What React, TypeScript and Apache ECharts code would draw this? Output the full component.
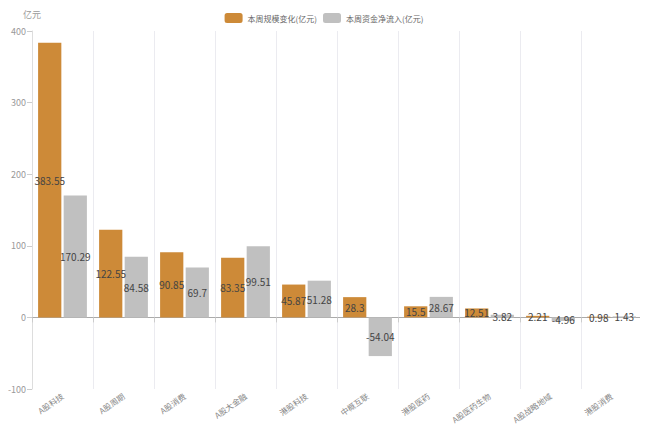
import React, { useEffect, useRef } from "react";
import * as echarts from "echarts";

const categories = [
  "A股科技",
  "A股周期",
  "A股消费",
  "A股大金融",
  "港股科技",
  "中概互联",
  "港股医药",
  "A股医药生物",
  "A股战略地域",
  "港股消费",
];
const scaleChange = [383.55, 122.55, 90.85, 83.35, 45.87, 28.3, 15.5, 12.51, 2.21, 0.98];
const netInflow = [170.29, 84.58, 69.7, 99.51, 51.28, -54.04, 28.67, 3.82, -4.96, 1.43];
const seriesNames = ["本周规模变化(亿元)", "本周资金净流入(亿元)"];
const yTicks = { min: -100, max: 400, interval: 100 };

const FONT = "'Noto Sans CJK SC', 'Noto Sans', sans-serif";

export default function App() {
  const ref = useRef<HTMLDivElement>(null);

  useEffect(() => {
    if (!ref.current) return;
    const chart = echarts.init(ref.current, undefined, { renderer: "svg" });
    const label = {
      show: true,
      position: "inside",
      color: "#444",
      fontSize: 10,
      fontFamily: FONT,
    };
    chart.setOption({
      animation: false,
      textStyle: { fontFamily: FONT },
      legend: {
        top: 8,
        left: "center",
        itemWidth: 18,
        itemHeight: 10,
        itemGap: 6,
        textStyle: { fontSize: 8, color: "#666", fontFamily: FONT },
        data: seriesNames,
      },
      grid: {
        left: 32,
        right: 6,
        top: 31,
        bottom: 43,
        containLabel: false,
        outerBoundsMode: "none",
      },
      xAxis: {
        type: "category",
        data: categories,
        axisLine: { onZero: true, lineStyle: { color: "#aaa" } },
        axisTick: { show: true, lineStyle: { color: "#ccc" } },
        splitLine: { show: true, lineStyle: { color: "#ebebf0" } },
        axisLabel: {
          rotate: 35,
          fontSize: 8,
          color: "#888",
          interval: 0,
          margin: 6,
          fontFamily: FONT,
        },
      },
      yAxis: {
        type: "value",
        name: "亿元",
        nameGap: 12,
        nameTextStyle: { fontSize: 9, color: "#999", align: "center", fontFamily: FONT },
        min: yTicks.min,
        max: yTicks.max,
        interval: yTicks.interval,
        axisLine: { show: true, lineStyle: { color: "#ddd" } },
        axisTick: { show: true, lineStyle: { color: "#ccc" } },
        splitLine: { show: false },
        axisLabel: { fontSize: 9, color: "#999", margin: 6, fontFamily: FONT },
      },
      series: [
        {
          name: seriesNames[0],
          type: "bar",
          data: scaleChange,
          barGap: "10%",
          barCategoryGap: "20%",
          itemStyle: { color: "#cd8a38" },
          label,
        },
        {
          name: seriesNames[1],
          type: "bar",
          data: netInflow,
          itemStyle: { color: "#c0c0c0" },
          label,
        },
      ],
    });
    return () => chart.dispose();
  }, []);

  return (
    <div
      ref={ref}
      style={{ width: 648, height: 432, margin: "-8px 0 0 -8px", position: "relative" }}
    />
  );
}
